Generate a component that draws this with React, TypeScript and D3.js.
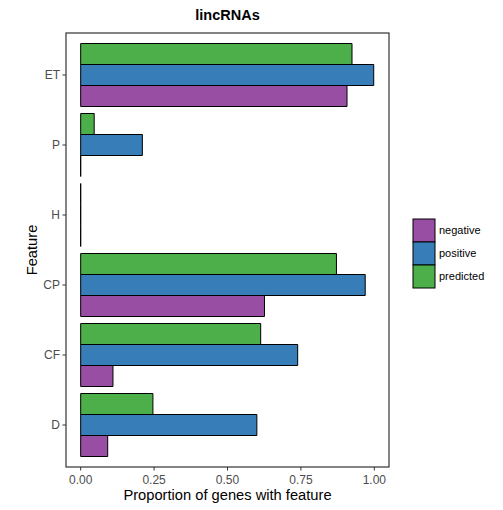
import React from 'react';
import * as d3 from 'd3';

// categories top-to-bottom and series (top bar first within a group)
const features = ['ET', 'P', 'H', 'CP', 'CF', 'D'];
const seriesOrder = ['predicted', 'positive', 'negative'];
const legendOrder = ['negative', 'positive', 'predicted'];

const negative = [0.907, 0, 0, 0.626, 0.11, 0.092];
const positive = [0.998, 0.21, 0, 0.969, 0.739, 0.6];
const predicted = [0.924, 0.046, 0, 0.871, 0.613, 0.246];

const xTicks = [0, 0.25, 0.5, 0.75, 1];
const xTickLabels = ['0.00', '0.25', '0.50', '0.75', '1.00'];

const colors: Record<string, string> = {
  negative: '#984EA3',
  positive: '#377EB8',
  predicted: '#4DAF4A',
};

const values: Record<string, number[]> = { negative, positive, predicted };

const App = () => {
  const width = 503;
  const height = 510;
  const panel = { left: 66, right: 389, top: 33, bottom: 467 };

  const x = d3.scaleLinear().domain([-0.05, 1.05]).range([panel.left, panel.right]);
  const y = d3
    .scalePoint()
    .domain(features)
    .range([panel.top, panel.bottom])
    .padding(0.6);
  const step = y.step();
  const inner = d3
    .scaleBand()
    .domain(seriesOrder)
    .range([-step * 0.45, step * 0.45]);

  const font = '"Liberation Sans", Arial, Helvetica, sans-serif';

  // bar drawn as a path so zero-width bars still show their outline
  const barPath = (x0: number, x1: number, y0: number, h: number) => {
    const p = d3.path();
    p.moveTo(x0, y0);
    p.lineTo(x1, y0);
    p.lineTo(x1, y0 + h);
    p.lineTo(x0, y0 + h);
    p.closePath();
    return p.toString();
  };

  return (
    <svg
      width={width}
      height={height}
      style={{ position: 'absolute', left: 0, top: 0, fontFamily: font }}
    >
      <rect width={width} height={height} fill="#fff" />
      <text x={(panel.left + panel.right) / 2} y={20} textAnchor="middle" fontSize={14.5} fontWeight="bold">
        lincRNAs
      </text>

      {/* bars */}
      {features.map((f, i) => (
        <g key={f}>
          {seriesOrder.map((s) => (
            <path
              key={s}
              d={barPath(
                x(0),
                x(values[s][i]),
                (y(f) as number) + (inner(s) as number),
                inner.bandwidth()
              )}
              fill={colors[s]}
              stroke="#000"
              strokeWidth={1}
            />
          ))}
        </g>
      ))}

      {/* panel border */}
      <rect
        x={panel.left}
        y={panel.top}
        width={panel.right - panel.left}
        height={panel.bottom - panel.top}
        fill="none"
        stroke="#333"
        strokeWidth={1.2}
      />

      {/* y axis */}
      {features.map((f) => (
        <g key={f} transform={`translate(0,${y(f)})`}>
          <line x1={panel.left - 3.5} x2={panel.left} stroke="#333" />
          <text x={panel.left - 6} dy="0.35em" textAnchor="end" fontSize={12} fill="#4D4D4D">
            {f}
          </text>
        </g>
      ))}

      {/* x axis */}
      {xTicks.map((t, i) => (
        <g key={t} transform={`translate(${x(t)},0)`}>
          <line y1={panel.bottom} y2={panel.bottom + 3.5} stroke="#333" />
          <text y={panel.bottom + 17} textAnchor="middle" fontSize={12} fill="#4D4D4D">
            {xTickLabels[i]}
          </text>
        </g>
      ))}

      <text x={(panel.left + panel.right) / 2} y={500} textAnchor="middle" fontSize={14.7}>
        Proportion of genes with feature
      </text>
      <text
        transform={`translate(37,${(panel.top + panel.bottom) / 2}) rotate(-90)`}
        textAnchor="middle"
        fontSize={14.7}
      >
        Feature
      </text>

      {/* legend */}
      {legendOrder.map((s, i) => (
        <g key={s} transform={`translate(413,${219 + i * 23})`}>
          <rect width={22} height={23} fill={colors[s]} stroke="#000" strokeWidth={1} />
          <text x={26} y={11.5} dy="0.35em" fontSize={11}>
            {s}
          </text>
        </g>
      ))}
    </svg>
  );
};

export default App;
